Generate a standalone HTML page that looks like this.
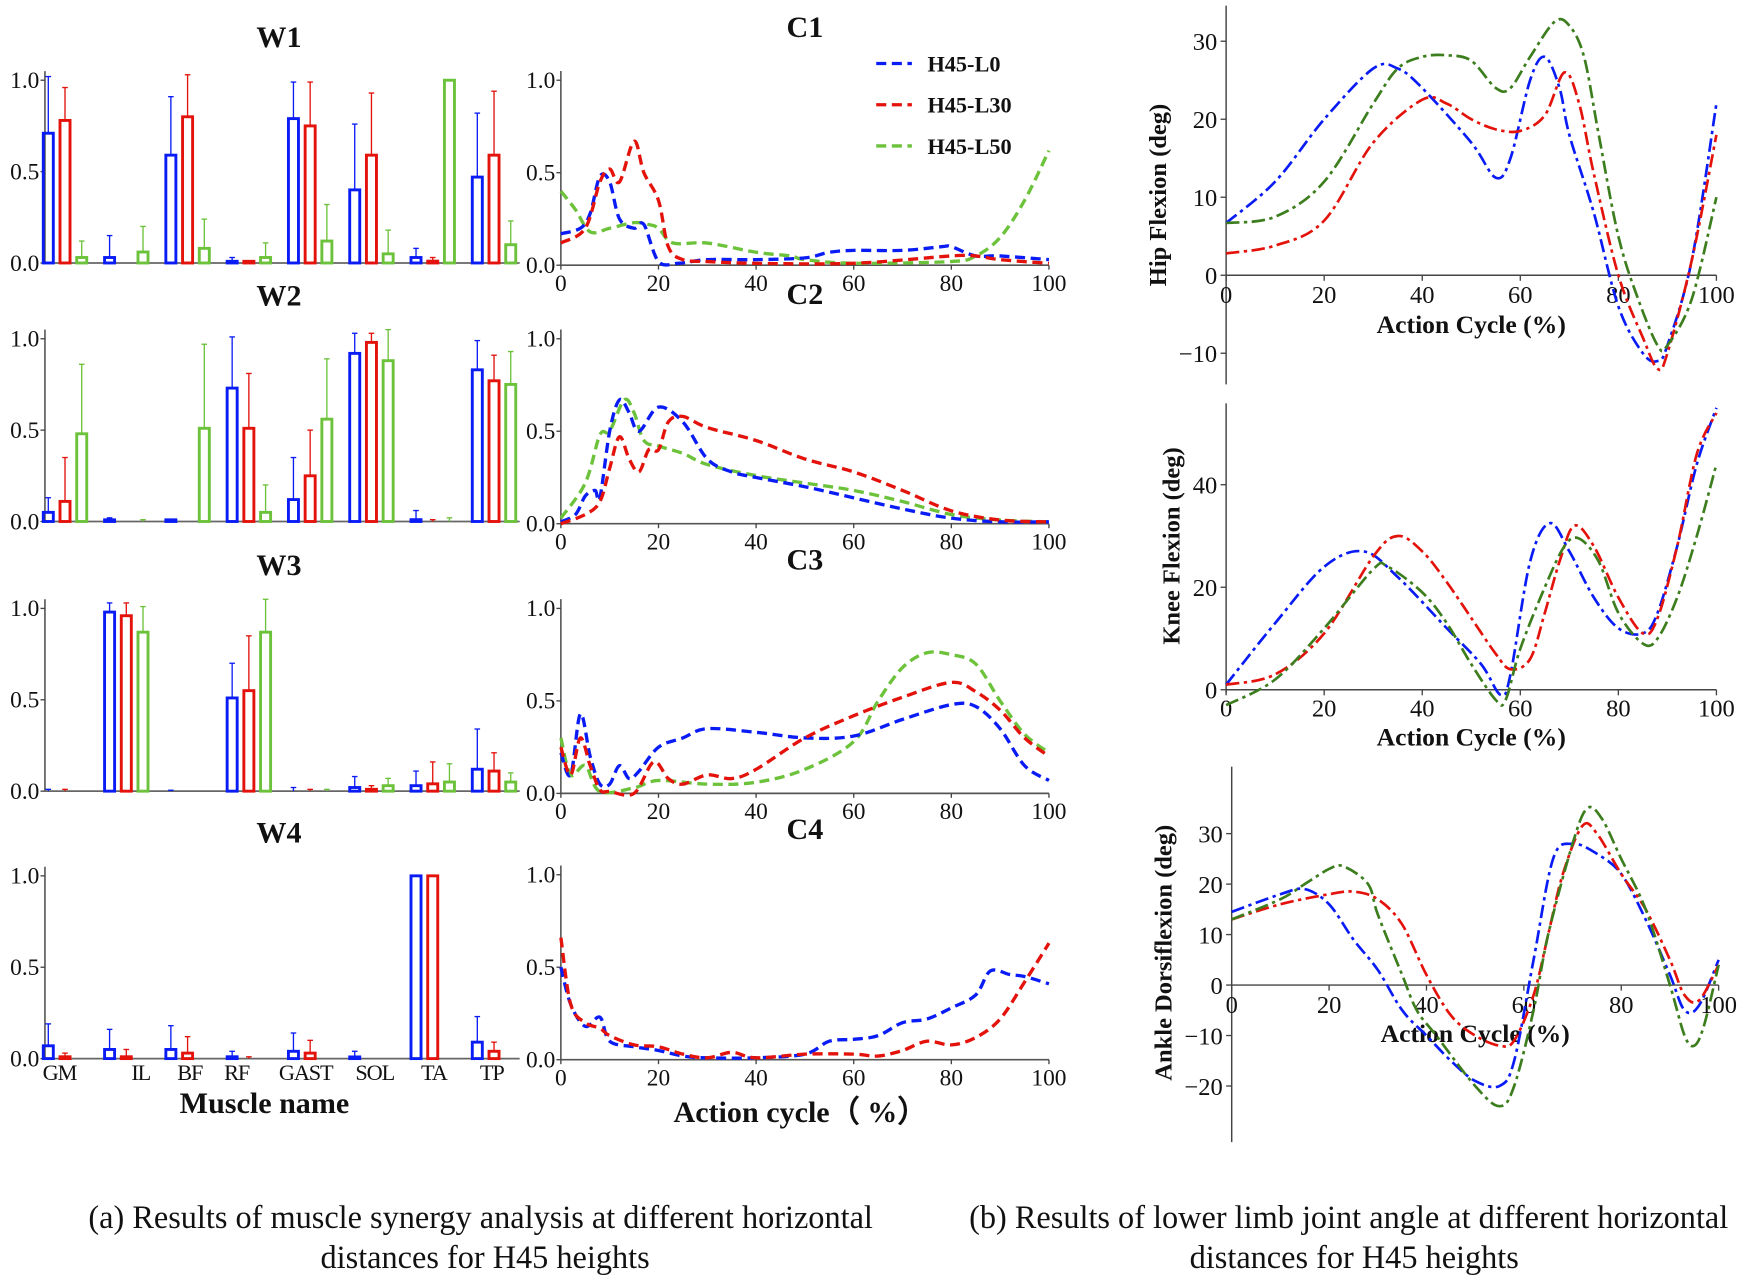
<!DOCTYPE html>
<html><head><meta charset="utf-8">
<style>
html,body{margin:0;padding:0;background:#fff;}
svg{display:block;}
text{font-family:"Liberation Serif",serif;fill:#111;}
</style></head>
<body>
<svg id="fig" width="1748" height="1277" viewBox="0 0 1568 1146" xmlns="http://www.w3.org/2000/svg"></svg>
<script>
// ---------- DATA ----------
const muscles = ["GM","IL","BF","RF","GAST","SOL","TA","TP"];
const seriesNames = ["H45-L0","H45-L30","H45-L50"];
const w1Blue = [0.71,0.03,0.59,0.005,0.79,0.40,0.03,0.47];
const w1Red = [0.78,0,0.80,0.005,0.75,0.59,0.01,0.59];
const w1Green = [0.03,0.06,0.08,0.03,0.12,0.05,1.0,0.10];
const w1BlueErr = [1.02,0.15,0.91,0.03,0.99,0.76,0.08,0.82];
const w1RedErr = [0.96,0,1.03,0.005,0.99,0.93,0.03,0.94];
const w1GreenErr = [0.12,0.20,0.24,0.11,0.32,0.18,1.0,0.23];
const w2Blue = [0.05,0.005,0.005,0.73,0.12,0.92,0.01,0.83];
const w2Red = [0.11,0,0,0.51,0.25,0.98,0,0.77];
const w2Green = [0.48,0,0.51,0.05,0.56,0.88,0,0.75];
const w2BlueErr = [0.13,0.02,0.01,1.01,0.35,1.03,0.06,0.99];
const w2RedErr = [0.35,0,0,0.81,0.50,1.03,0.01,0.91];
const w2GreenErr = [0.86,0.01,0.97,0.20,0.89,1.05,0.02,0.93];
const w3Blue = [0,0.98,0,0.51,0,0.02,0.03,0.12];
const w3Red = [0,0.96,0,0.55,0,0.01,0.04,0.11];
const w3Green = [0,0.87,0,0.87,0,0.03,0.05,0.05];
const w3BlueErr = [0.01,1.03,0.005,0.70,0.02,0.08,0.11,0.34];
const w3RedErr = [0.01,1.03,0,0.85,0.01,0.03,0.16,0.21];
const w3GreenErr = [0,1.01,0,1.05,0.01,0.07,0.15,0.10];
const w4Blue = [0.07,0.05,0.05,0.01,0.04,0.005,1.0,0.09];
const w4Red = [0.01,0.01,0.03,0,0.03,0,1.0,0.04];
const w4BlueErr = [0.19,0.16,0.18,0.04,0.14,0.04,1.0,0.23];
const w4RedErr = [0.03,0.05,0.12,0.01,0.10,0,1.0,0.09];

const c1BlueX=[0,4,6,8,10,12,15,17,20,24,30,40,50,55,60,70,78,80,85,90,100];
const c1BlueY=[.17,.2,.28,.48,.45,.25,.2,.22,.02,.01,.03,.03,.04,.07,.08,.08,.1,.1,.05,.05,.03];
const c1RedX=[0,5,8,10,12,15,17,20,22,25,30,40,60,80,85,90,100];
const c1RedY=[.12,.2,.45,.52,.45,.67,.5,.35,.1,.03,.02,.01,.01,.05,.05,.03,.01];
const c1GreenX=[0,3,6,10,15,18,20,23,30,40,47,50,60,80,85,90,95,100];
const c1GreenY=[.4,.3,.18,.2,.23,.22,.2,.12,.12,.07,.05,.03,.01,.02,.05,.15,.35,.62];
const c2BlueX=[0,3,5,7,8,10,12,14,16,20,25,30,35,40,50,60,70,80,90,100];
const c2BlueY=[.01,.05,.15,.18,.14,.5,.67,.6,.5,.63,.55,.35,.28,.25,.2,.14,.08,.03,.01,.01];
const c2RedX=[0,5,8,10,12,14,16,18,20,22,25,30,40,50,60,70,80,90,100];
const c2RedY=[0,.05,.12,.3,.47,.35,.28,.4,.4,.55,.58,.52,.45,.35,.28,.18,.07,.02,.01];
const c2GreenX=[0,5,8,10,13,15,17,20,25,30,40,50,60,70,80,90,100];
const c2GreenY=[.03,.22,.48,.5,.67,.6,.45,.42,.38,.32,.26,.22,.18,.12,.05,.02,.01];
const c3BlueX=[0,2,4,6,8,10,12,14,16,20,25,30,40,50,60,70,80,85,90,95,100];
const c3BlueY=[.22,.1,.43,.2,.05,.05,.15,.08,.12,.25,.3,.35,.33,.3,.31,.4,.48,.47,.35,.15,.07];
const c3RedX=[0,2,4,6,8,10,15,19,22,25,30,35,40,50,60,70,80,85,90,95,100];
const c3RedY=[.25,.1,.3,.15,.02,.01,.0,.17,.08,.05,.1,.08,.13,.3,.42,.52,.6,.55,.45,.3,.2];
const c3GreenX=[0,2,5,8,15,20,30,40,50,60,65,70,75,80,85,90,95,100];
const c3GreenY=[.3,.1,.15,.01,.03,.07,.05,.06,.13,.28,.5,.68,.76,.75,.7,.5,.32,.22];
const c4BlueX=[0,2,5,8,10,15,20,25,30,40,50,55,60,65,70,75,80,85,88,92,95,100];
const c4BlueY=[.5,.3,.18,.23,.1,.07,.05,.02,.01,.01,.03,.1,.11,.13,.2,.22,.28,.35,.48,.46,.45,.41];
const c4RedX=[0,2,5,8,10,15,20,25,30,35,40,50,60,65,70,75,80,85,90,95,100];
const c4RedY=[.66,.3,.2,.17,.13,.08,.07,.03,.01,.04,.01,.03,.03,.02,.05,.1,.08,.12,.22,.42,.63];

const hipBlueX=[0,10,20,30,35,40,50,55,58,62,65,68,70,75,80,85,88,90,95,100];
const hipBlueY=[6.7,12,20,26.5,26.5,24,17,12.5,15,25,28,24,18,8,-4,-10,-11,-9,2,22];
const hipRedX=[0,10,20,30,40,45,50,55,60,65,69,72,75,80,85,88,90,95,100];
const hipRedY=[2.8,3.8,7,17,22.5,22,20,18.7,18.5,20.5,26,22,13,0,-8,-12,-10,2,18];
const hipGreenX=[0,10,20,30,35,40,45,50,55,58,62,67,70,73,76,80,84,88,90,95,100];
const hipGreenY=[6.7,7.5,12,22,26.5,28,28.2,27.5,24,24,28,32.5,32,28,18,5,-3,-9,-9,-3,10];
const kneeBlueX=[0,10,20,28,35,45,52,56,58,62,66,70,75,80,85,88,92,96,100];
const kneeBlueY=[1,13,24,27,22,12,5,-1,3,25,32.5,27,18,12,11,15,28,44,55];
const kneeRedX=[0,10,20,30,35,40,45,50,55,58,62,65,68,71,75,80,85,88,92,96,100];
const kneeRedY=[1,3,11,26,30,27,21,14,7,4,6,15,25,32,28,18,11,14,28,46,54];
const kneeGreenX=[0,10,20,30,33,40,45,50,55,57,60,65,69,72,76,80,85,88,92,96,100];
const kneeGreenY=[-3,2,12,23.5,24,19,13,5,-2,-2,8,20,28,29.5,25,15,9,10,18,30,44];
const ankBlueX=[0,10,15,20,25,30,35,40,45,50,55,58,62,66,70,75,80,85,90,93,96,100];
const ankBlueY=[14.5,18,19,16,9,3,-5,-10,-15,-19,-20,-15,5,25,28,26,22,13,2,-5,-4,5];
const ankRedX=[0,10,20,25,30,35,40,45,50,55,58,62,65,68,72,75,80,85,90,93,96,100];
const ankRedY=[13,16,18,18.5,17,12,2,-6,-10,-12,-11,-2,10,22,31.5,30,22,15,5,-2,-3,4];
const ankGreenX=[0,10,15,20,23,28,30,35,38,42,50,55,58,62,65,70,73,76,80,85,90,93,95,97,100];
const ankGreenY=[13,17,20,23,23.5,20,14,2,-5,-10,-20,-24,-20,-5,10,28,35,33,25,15,0,-10,-12,-8,4];

// ---------- DRAWING ----------
const NS="http://www.w3.org/2000/svg";
const svg=document.getElementById('fig');
function mk(tag,attrs,parent){const e=document.createElementNS(NS,tag);for(const k in attrs)e.setAttribute(k,attrs[k]);(parent||svg).appendChild(e);return e;}
function txt(s,x,y,size,opts,parent){const t=mk('text',Object.assign({x:x,y:y,'font-size':size},opts||{}),parent);t.textContent=s;return t;}
const BLUE="#0a1cf5",RED="#e3120b",LGREEN="#6cc23a",DGREEN="#3c7d1d";

function smoothPath(pts){
  let d="M"+pts[0][0].toFixed(1)+","+pts[0][1].toFixed(1);
  for(let i=0;i<pts.length-1;i++){
    const p0=pts[Math.max(0,i-1)],p1=pts[i],p2=pts[i+1],p3=pts[Math.min(pts.length-1,i+2)];
    const c1x=p1[0]+(p2[0]-p0[0])/6,c1y=p1[1]+(p2[1]-p0[1])/6;
    const c2x=p2[0]-(p3[0]-p1[0])/6,c2y=p2[1]-(p3[1]-p1[1])/6;
    d+=" C"+c1x.toFixed(1)+","+c1y.toFixed(1)+" "+c2x.toFixed(1)+","+c2y.toFixed(1)+" "+p2[0].toFixed(1)+","+p2[1].toFixed(1);
  }
  return d;
}

function barPanel(name,title,y0,vals,errs,showLabels){
  const g=mk('g',{});
  
  
  const yS=v=>y0-v*164;
  const gx=i=>43+i*55;
  const t=txt(title,250,y0-194,27,{'font-weight':'bold','text-anchor':'middle'},g);
  
  
  mk('line',{x1:40,y1:yS(1.05),x2:40,y2:y0,stroke:'#444','stroke-width':1.3},g);
  mk('line',{x1:40,y1:y0,x2:466,y2:y0,stroke:'#666','stroke-width':1.6},g);
  [0,0.5,1].forEach(v=>{
    mk('line',{x1:36,y1:yS(v),x2:40,y2:yS(v),stroke:'#444','stroke-width':1.2},g);
    txt(v.toFixed(1),35,yS(v)+7,21,{'text-anchor':'end'},g);
  });
  const cols=[BLUE,RED,LGREEN];
  vals.forEach((arr,s)=>{
    if(!arr)return;
    arr.forEach((v,i)=>{
      const x=gx(i)+s*15;
      const e=errs[s][i];
      if(e>v+0.001){
        mk('line',{x1:x,y1:yS(v),x2:x,y2:yS(e),stroke:cols[s],'stroke-width':1.2},g);
        mk('line',{x1:x-2.5,y1:yS(e),x2:x+2.5,y2:yS(e),stroke:cols[s],'stroke-width':1.2},g);
      }
      if(v<=0)return;
      const h=Math.max(v*164,1.5);
      const r=mk('rect',{x:x-4.5,y:y0-h,width:9,height:h,fill:'none',stroke:cols[s],'stroke-width':2.6},g);
      
      
    });
  });
  if(showLabels){
    const lx=[53,126,170,212,274,336,389,441];
    muscles.forEach((m,i)=>{
      const l=txt(m,lx[i],y0+19,20,{'text-anchor':'middle','letter-spacing':'-1'},g);
      
      
    });
  }
}
barPanel('bar-panel-w1','W1',236,[w1Blue,w1Red,w1Green],[w1BlueErr,w1RedErr,w1GreenErr],false);
barPanel('bar-panel-w2','W2',468,[w2Blue,w2Red,w2Green],[w2BlueErr,w2RedErr,w2GreenErr],false);
barPanel('bar-panel-w3','W3',710,[w3Blue,w3Red,w3Green],[w3BlueErr,w3RedErr,w3GreenErr],false);
barPanel('bar-panel-w4','W4',950,[w4Blue,w4Red,null],[w4BlueErr,w4RedErr,null],true);

function cPanel(name,title,titleY,y0,series){
  const g=mk('g',{});
  
  
  const xS=v=>503+v*4.38, yS=v=>y0-v*166;
  const t=txt(title,722,titleY,27,{'font-weight':'bold','text-anchor':'middle'},g);
  
  
  mk('line',{x1:503,y1:yS(1.05),x2:503,y2:y0,stroke:'#444','stroke-width':1.3},g);
  mk('line',{x1:503,y1:y0,x2:941,y2:y0,stroke:'#555','stroke-width':1.5},g);
  [0,0.5,1].forEach(v=>{
    mk('line',{x1:499,y1:yS(v),x2:503,y2:yS(v),stroke:'#444','stroke-width':1.2},g);
    txt(v.toFixed(1),498,yS(v)+7,21,{'text-anchor':'end'},g);
  });
  [0,20,40,60,80,100].forEach(v=>{
    mk('line',{x1:xS(v),y1:y0,x2:xS(v),y2:y0+4,stroke:'#444','stroke-width':1.2},g);
    txt(String(v),xS(v),y0+23,21,{'text-anchor':'middle'},g);
  });
  series.forEach(s=>{
    const pts=s.x.map((xv,i)=>[xS(xv),yS(s.y[i])]);
    const p=mk('path',{d:smoothPath(pts),fill:'none',stroke:s.c,'stroke-width':3,'stroke-dasharray':'9,5'},g);
    
    
  });
}
cPanel('curve-panel-c1','C1',33,238,[{x:c1GreenX,y:c1GreenY,c:LGREEN,n:'green'},{x:c1BlueX,y:c1BlueY,c:BLUE,n:'blue'},{x:c1RedX,y:c1RedY,c:RED,n:'red'}]);
cPanel('curve-panel-c2','C2',273,470,[{x:c2GreenX,y:c2GreenY,c:LGREEN,n:'green'},{x:c2BlueX,y:c2BlueY,c:BLUE,n:'blue'},{x:c2RedX,y:c2RedY,c:RED,n:'red'}]);
cPanel('curve-panel-c3','C3',511,712,[{x:c3GreenX,y:c3GreenY,c:LGREEN,n:'green'},{x:c3BlueX,y:c3BlueY,c:BLUE,n:'blue'},{x:c3RedX,y:c3RedY,c:RED,n:'red'}]);
cPanel('curve-panel-c4','C4',753,951,[{x:c4BlueX,y:c4BlueY,c:BLUE,n:'blue'},{x:c4RedX,y:c4RedY,c:RED,n:'red'}]);

const lg=mk('g',{});


[BLUE,RED,LGREEN].forEach((c,i)=>{
  const y=57+i*37;
  mk('line',{x1:786,y1:y,x2:818,y2:y,stroke:c,'stroke-width':3,'stroke-dasharray':'9,5'},lg);
  const t=txt(seriesNames[i],832,y+7,20,{'font-weight':'bold'},lg);
  
  
});

const mn=txt('Muscle name',237,999,27,{'font-weight':'bold','text-anchor':'middle'});


const ac=txt('Action cycle（ %）',718,1007,27,{'font-weight':'bold','text-anchor':'middle','font-family':'"Liberation Serif","Noto Serif CJK SC",serif'});



function jointPanel(name,ylabel,ylabX,ylabY,x0,x1,yZero,pxPer,spineTop,spineBot,ticks,xtickY,xtitleY,series){
  const g=mk('g',{});
  
  
  const xS=v=>x0+v*(x1-x0)/100, yS=v=>yZero-v*pxPer;
  mk('line',{x1:x0,y1:spineTop,x2:x0,y2:spineBot,stroke:'#444','stroke-width':1.3},g);
  mk('line',{x1:x0,y1:yZero,x2:x1,y2:yZero,stroke:'#444','stroke-width':1.3},g);
  ticks.forEach(v=>{
    mk('line',{x1:x0-5,y1:yS(v),x2:x0,y2:yS(v),stroke:'#444','stroke-width':1.2},g);
    txt(v<0?'\u2212'+Math.abs(v):String(v),x0-8,yS(v)+8,22,{'text-anchor':'end'},g);
  });
  [0,20,40,60,80,100].forEach(v=>{
    mk('line',{x1:xS(v),y1:yZero,x2:xS(v),y2:yZero+5,stroke:'#444','stroke-width':1.2},g);
    txt(String(v),xS(v),xtickY,22,{'text-anchor':'middle'},g);
  });
  const xt=txt('Action Cycle (%)',(x0+x1)/2,xtitleY,23,{'font-weight':'bold','text-anchor':'middle'},g);
  
  
  const yt=txt(ylabel,ylabX,ylabY,22,{'font-weight':'bold','text-anchor':'middle',transform:'rotate(-90 '+ylabX+' '+ylabY+')'},g);
  
  
  series.forEach(s=>{
    const pts=s.x.map((xv,i)=>[xS(xv),yS(s.y[i])]);
    const p=mk('path',{d:smoothPath(pts),fill:'none',stroke:s.c,'stroke-width':2.4,'stroke-dasharray':'12,4,3,4'},g);
    
    
  });
}
jointPanel('hip-flexion-panel','Hip Flexion (deg)',1046,175,1100,1540,247,7,5,345,[30,20,10,0,-10],272,299,
  [{x:hipBlueX,y:hipBlueY,c:BLUE,n:'blue'},{x:hipRedX,y:hipRedY,c:RED,n:'red'},{x:hipGreenX,y:hipGreenY,c:DGREEN,n:'green'}]);
jointPanel('knee-flexion-panel','Knee Flexion (deg)',1058,490,1100,1540,619,4.6,362,622,[0,20,40],643,669,
  [{x:kneeBlueX,y:kneeBlueY,c:BLUE,n:'blue'},{x:kneeRedX,y:kneeRedY,c:RED,n:'red'},{x:kneeGreenX,y:kneeGreenY,c:DGREEN,n:'green'}]);
jointPanel('ankle-dorsiflexion-panel','Ankle Dorsiflexion (deg)',1051,855,1105,1542,884,4.53,688,1025,[30,20,10,0,-10,-20],909,935,
  [{x:ankBlueX,y:ankBlueY,c:BLUE,n:'blue'},{x:ankRedX,y:ankRedY,c:RED,n:'red'},{x:ankGreenX,y:ankGreenY,c:DGREEN,n:'green'}]);

const ca1=txt('(a)  Results of muscle synergy analysis at different horizontal',431,1102,29,{'text-anchor':'middle'});


const ca2=txt('distances for H45 heights',435,1138,29,{'text-anchor':'middle'});


const cb1=txt('(b)  Results of lower limb joint angle at different horizontal',1210,1102,29,{'text-anchor':'middle'});


const cb2=txt('distances for H45 heights',1215,1138,29,{'text-anchor':'middle'});


</script>
</body></html>
